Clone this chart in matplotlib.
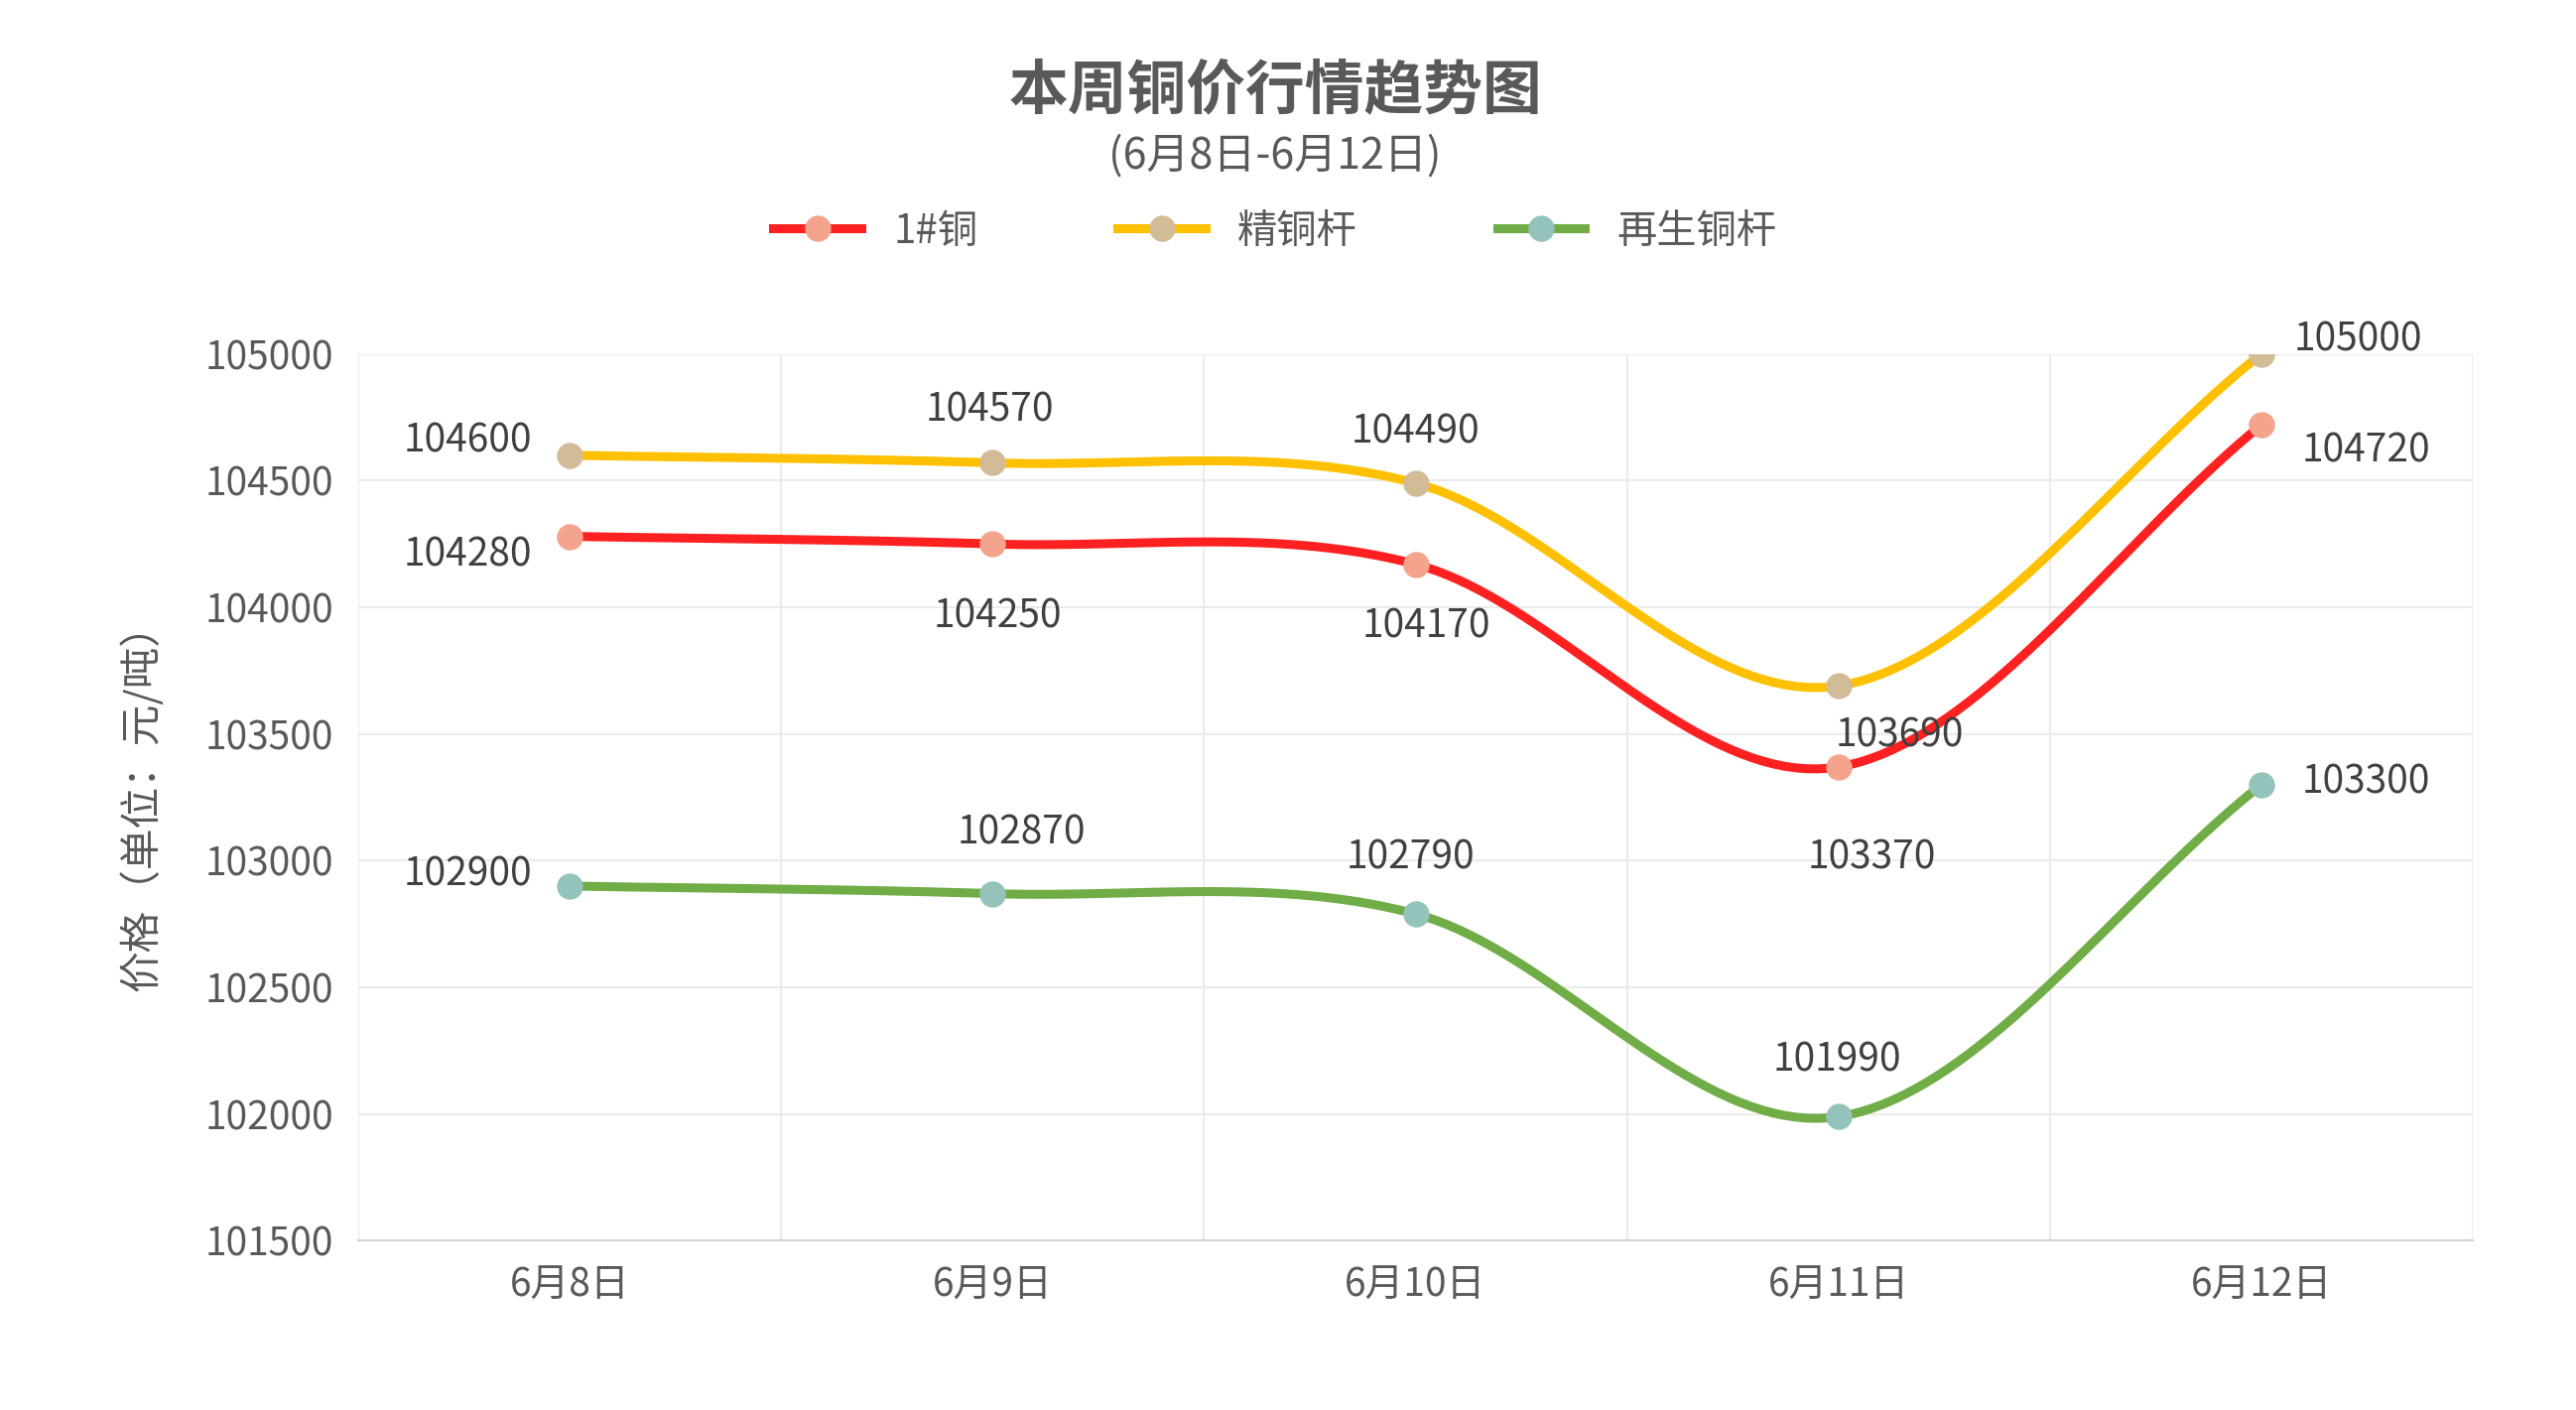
import numpy as np
import matplotlib.pyplot as plt

plt.rcParams['font.family'] = ['Noto Sans CJK SC', 'DejaVu Sans']

# 数据
days = ['6月8日', '6月9日', '6月10日', '6月11日', '6月12日']
copper = [104280, 104250, 104170, 103370, 104720]
rod = [104600, 104570, 104490, 103690, 105000]
recycled = [102900, 102870, 102790, 101990, 103300]

names = ['1#铜', '精铜杆', '再生铜杆']
line_colors = ['#FF2121', '#FFC000', '#70AD47']
marker_colors = ['#F4A48C', '#D2BC98', '#94C3BC']

# 数据标签偏移（points）
offsets = [
    [(-74, -14), (4, -53), (8, -45), (24, -66), (76, -19)],
    [(-74, 10), (-2, 38), (0, 37), (44, -36), (70, 10)],
    [(-74, 8), (21, 44), (-4, 41), (-1, 41), (76, 2)],
]

def smooth(y, n=40):
    # Catmull-Rom 曲线，类似 Excel 平滑线
    y = np.asarray(y, float)
    x = np.arange(len(y), dtype=float)
    px = np.concatenate([[2 * x[0] - x[1]], x, [2 * x[-1] - x[-2]]])
    py = np.concatenate([[2 * y[0] - y[1]], y, [2 * y[-1] - y[-2]]])
    xs, ys = [], []
    t = np.linspace(0, 1, n)
    for i in range(1, len(px) - 2):
        for p, out in ((px, xs), (py, ys)):
            p0, p1, p2, p3 = p[i - 1], p[i], p[i + 1], p[i + 2]
            out.extend(0.5 * ((2 * p1) + (-p0 + p2) * t
                              + (2 * p0 - 5 * p1 + 4 * p2 - p3) * t ** 2
                              + (-p0 + 3 * p1 - 3 * p2 + p3) * t ** 3))
    return np.array(xs), np.array(ys)

fig = plt.figure(figsize=(25.96, 14.21), dpi=100)
ax = fig.add_axes([0.139, 0.12, 0.821, 0.629])
grey = '#595959'

x = np.arange(len(days))
for vals, name, lc, mc, offs in zip([copper, rod, recycled], names, line_colors, marker_colors, offsets):
    sx, sy = smooth(vals)
    ax.plot(sx, sy, color=lc, lw=6.5, solid_capstyle='round', zorder=2)
    ax.plot(x, vals, 'o', color=mc, ms=18, zorder=3)
    ax.plot([], [], '-o', color=lc, mfc=mc, mec=mc, lw=6.5, ms=18, label=name)
    for xi, v, (dx, dy) in zip(x, vals, offs):
        ax.annotate(str(v), (xi, v), xytext=(dx, dy), textcoords='offset points',
                    ha='center', va='center', fontsize=28, color='#404040', zorder=4)

ax.set_xlim(-0.5, 4.5)
ax.set_ylim(101500, 105000)
ax.set_yticks(np.arange(101500, 105001, 500))
ax.set_xticks(x)
ax.set_xticklabels(days)
ax.set_xticks(np.arange(-0.5, 4.6, 1), minor=True)
ax.grid(True, which='minor', axis='x', color='#EBEBEB', lw=1.5)
ax.grid(True, which='major', axis='y', color='#EBEBEB', lw=1.5)
ax.tick_params(which='both', length=0, labelsize=28, colors=grey, pad=18)
for s in ['top', 'right', 'left']:
    ax.spines[s].set_visible(False)
ax.spines['bottom'].set_color('#D0D0D0')
ax.spines['bottom'].set_linewidth(1.5)
ax.set_ylabel('价格（单位：元/吨）', fontsize=30, color=grey, labelpad=30)

fig.text(0.495, 0.935, '本周铜价行情趋势图', ha='center', va='center',
         fontsize=43, fontweight='bold', color=grey)
fig.text(0.495, 0.889, '(6月8日-6月12日)', ha='center', va='center', fontsize=31, color=grey)
fig.legend(loc='center', bbox_to_anchor=(0.495, 0.836), ncol=3, frameon=False,
           fontsize=29, labelcolor=grey, handlelength=2.2, columnspacing=3.5)

fig.savefig('out.png', dpi=100)
